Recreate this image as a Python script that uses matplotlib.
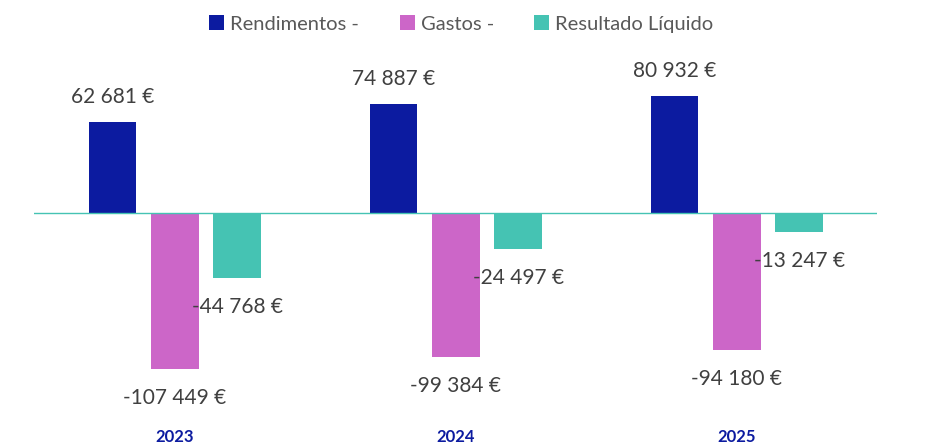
import matplotlib.pyplot as plt
import numpy as np

anos = ['2023', '2024', '2025']
rendimentos = [62681, 74887, 80932]
gastos = [-107449, -99384, -94180]
resultado = [-44768, -24497, -13247]

series = [('Rendimentos -', rendimentos, '#0c1ba0'),
          ('Gastos -', gastos, '#cc66c8'),
          ('Resultado Líquido', resultado, '#45c3b3')]

plt.rcParams['font.family'] = ['Lato', 'DejaVu Sans']

def fmt(v):
    return '{:,}'.format(v).replace(',', ' ') + ' €'

fig = plt.figure(figsize=(9.32, 4.45), dpi=100)
ax = fig.add_axes([0.037, 0.065, 0.9045, 0.7986])

x = np.arange(len(anos))
largura = 0.17
passo = 0.222

for i, (nome, vals, cor) in enumerate(series):
    pos = x + (i - 1) * passo
    barras = ax.bar(pos, vals, largura, color=cor, label=nome)
    for b, v in zip(barras, vals):
        off = 25 if v > 0 else -29
        ax.annotate(fmt(v), (b.get_x() + b.get_width() / 2, v),
                    xytext=(0, off), textcoords='offset pixels',
                    ha='center', va='center', fontsize=15, color='#404040')

ax.axhline(0, color='#45c3b3', lw=1)
ax.set_xlim(-0.5, 2.5)
ax.set_ylim(-140000, 105000)
ax.set_yticks([])
ax.set_xticks(x)
ax.set_xticklabels(anos, fontweight='bold', color='#0c1ba0', fontsize=12)
ax.tick_params(axis='x', length=0, pad=9)
for s in ax.spines.values():
    s.set_visible(False)

fig.legend(loc='center', bbox_to_anchor=(0.495, 0.946), ncol=3, frameon=False,
           fontsize=14.5, labelcolor='#595959', handlelength=0.75, handleheight=0.75,
           handletextpad=0.3, columnspacing=2.0)

fig.savefig('out.png', dpi=100)
